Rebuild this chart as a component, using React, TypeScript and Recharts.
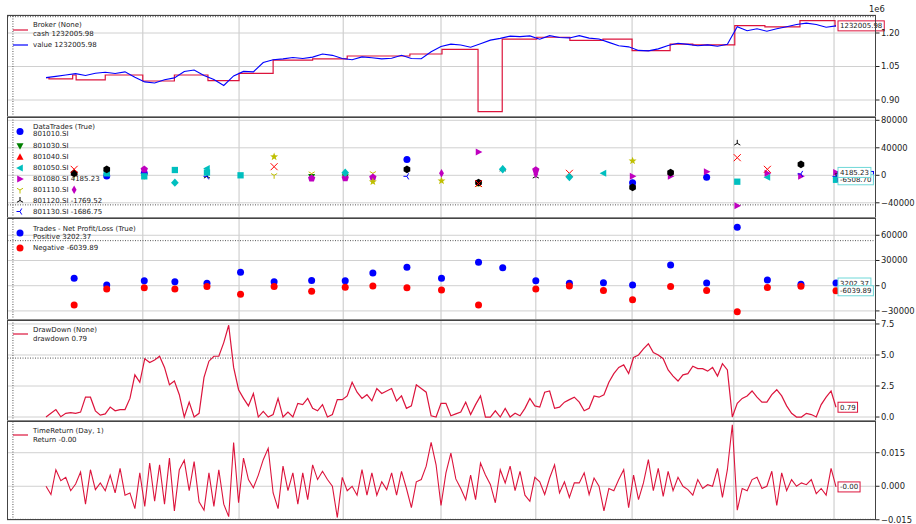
import { ComposedChart, Line, Scatter, XAxis, YAxis, CartesianGrid, ReferenceLine, ReferenceDot } from 'recharts'

const FONT = 'DejaVu Sans, sans-serif'
const CRIMSON = '#dc143c'
const BLUE = '#0000ff'
const GREEN = '#008000'
const RED = '#ff0000'
const CYAN = '#00bfbf'
const MAGENTA = '#bf00bf'
const YELLOW = '#bfbf00'
const BLACK = '#000000'
const TAG_CYAN = '#6fd8d8'

// bar index runs 0..160, plotted with a bit of padding either side
const X_DOMAIN = [-7.9, 168.1]
const gridX = [19.6, 39.1, 60.2, 80, 99.2, 118.7, 139.3, 159.6]

// broker value, every 2nd bar, in millions
const valueM = [1.000, 1.006, 1.012, 1.018, 1.010, 1.020, 1.024, 1.019, 1.026, 1.002, 0.981, 0.976, 0.991, 0.999, 1.028, 1.034, 1.010, 0.992, 0.965, 1.008, 1.028, 1.026, 1.068, 1.080, 1.084, 1.090, 1.086, 1.092, 1.106, 1.100, 1.086, 1.080, 1.093, 1.089, 1.084, 1.087, 1.100, 1.086, 1.085, 1.116, 1.140, 1.150, 1.146, 1.136, 1.152, 1.168, 1.176, 1.186, 1.184, 1.187, 1.172, 1.188, 1.180, 1.178, 1.188, 1.177, 1.173, 1.158, 1.143, 1.138, 1.122, 1.120, 1.129, 1.144, 1.154, 1.149, 1.143, 1.147, 1.141, 1.150, 1.228, 1.210, 1.219, 1.208, 1.219, 1.228, 1.238, 1.244, 1.238, 1.226, 1.232006]
// cash changes [bar, millions]
const cashSteps = [[0, 1.0], [0.6, 0.995], [5.4, 1.012], [6.1, 0.99], [12, 1.012], [19.6, 0.985], [26, 1.012], [32.8, 0.987], [39.1, 1.019], [46, 1.079], [54, 1.084], [61, 1.097], [73.7, 1.106], [80.2, 1.127], [87.5, 0.848], [92.4, 1.173], [99.4, 1.181], [106.1, 1.167], [112.8, 1.173], [118.7, 1.121], [126.4, 1.15], [131, 1.147], [139.5, 1.233], [145.6, 1.227], [152.7, 1.255], [159.8, 1.232006], [160, 1.232006]]
const p1Ticks = [900000, 1050000, 1200000]

// bars where trades were closed
const tradeIdx = [5.7, 12.3, 19.9, 26.1, 32.6, 39.4, 46.2, 53.8, 60.6, 66.2, 73.1, 80.1, 87.6, 92.5, 99.2, 106, 112.9, 118.8, 126.5, 133.8, 140, 146.1, 152.9, 160]

// data trades: [trade slot, pnl]
const s801010 = [[1, -1000], [2, 2900], [10, 23000], [17, -10700], [19, -3000]]
const s801030 = [[7, -2000], [8, -2500]]
const s801040 = [[0, 4000]]
const s801050 = [[1, 2900], [4, 10000], [16, 2900], [21, -3000]]
const s801080 = [[12, 34000], [17, -1500], [18, -1500], [19, 5300], [20, -44200], [21, 2900], [22, -1500], [23, 4185.23]]
const s801110 = [[0, 0], [2, -1000], [6, 0], [7, 2500], [9, 2900]]
const s801120 = [[4, -1500], [13, 8700], [14, -1500], [20, 46500], [23, -1769.52]]
const s801130 = [[4, -1500], [10, -1500], [22, 2000], [23, -1686.75]]
const sSquare = [[1, 2900], [2, -1500], [3, 7700], [4, 4000], [5, 0], [20, -9300], [23, -6508.7]]
const sPentagon = [[2, 8700], [7, -4400], [8, -4000], [9, -3000], [14, 7700]]
const sStar = [[6, 27000], [9, -9300], [11, -8000], [12, -12500], [17, 21000]]
const sHexagon = [[0, 2900], [1, 8700], [10, 8700], [12, -10700], [17, -17500], [18, 3800], [22, 16000]]
const sCross = [[0, 8700], [6, 12500], [12, -12000], [15, 2900], [20, 25600], [21, 8700]]
const sDiamond = [[3, -10700], [8, 3800], [13, 8700], [15, -2400]]
const sThinDiamond = [[0, -21000], [11, 2900], [14, 2000]]
const p2Ticks = [-40000, 0, 40000, 80000]

// net profit / loss per trade slot
const netPositive = [8800, 800, 6000, 4800, 2800, 15900, 4800, 6200, 5900, 15100, 21900, 8800, 27800, 21500, 6000, 2800, 3500, 800, 24600, 3100, 69500, 6800, 1800, 3202.37]
const netNegative = [-23000, -4000, -2400, -4000, -900, -10300, -900, -6700, -1700, -400, -2400, -5200, -23000, null, -4000, -300, -5600, -16700, -1000, -5600, -30900, -2000, -800, -6039.89]
const p3Ticks = [-30000, 0, 30000, 60000]

const drawdown = [0, 0.3, 0.6, 0.02, 0.3, 0.35, 0.3, 0.4, 1.6, 1.6, 0.5, 0.15, 0.25, 0.8, 0.5, 0.6, 0.6, 1.5, 3.4, 2.8, 4.7, 4.4, 4.6, 4.9, 4.0, 2.6, 2.9, 1.8, 0, 1.2, 0, 0.3, 3.2, 4.5, 4.9, 4.9, 6.0, 7.4, 4.0, 2.2, 1.5, 0.9, 1.9, 0, 0.45, 0, 0.2, 1.5, 0, 0.4, 0, 1.1, 1.0, 1.5, 0.7, 0.5, 1.0, 0, 0.2, 1.4, 1.4, 1.7, 2.8, 2.0, 1.5, 1.8, 1.3, 2.3, 1.9, 2.1, 2.3, 1.3, 1.7, 0.7, 0.9, 2.6, 2.3, 2.0, 0.1, 0, 1.1, 1.1, 0.1,
  0.25, 0.4, 1.2, 0.2, 1.0, 1.7, 0, 0, 0.5, 0, 0.7, 0, 0.3, 0.1, 0.7, 1.5, 0.9, 0.8, 2.0, 2.1, 0.7, 0.8, 1.2, 1.4, 1.6, 1.2, 0.5, 0.7, 1.7, 1.6, 1.8, 2.8, 3.5, 4.0, 4.2, 3.5, 4.8, 5.0, 5.5, 5.9, 5.2, 5.0, 4.7, 3.8, 3.3, 2.9, 3.4, 3.5, 4.1, 3.9, 3.9, 3.7, 4.0, 3.3, 4.3, 3.8, 0, 1.1, 1.5, 1.7, 2.1, 1.6, 1.2, 1.2, 1.8, 2.2, 1.7, 0.9, 0.3, 0, 0, 0.3, 0.2, 0, 1.0, 1.6, 2.1, 0.79]
const p4Ticks = [0, 2.5, 5, 7.5]

const dailyReturn = [0, -0.0037, 0.0074, 0.0025, 0.004, -0.002, 0.001, 0.0064, -0.008, 0.0074, -0.0015, 0.0015, -0.002, 0.005, -0.003, 0.008, -0.004, -0.003, -0.01, 0.006, -0.009, 0.0104, -0.0067, 0.0096, -0.008, 0.0126, -0.011, 0.0074, 0.0116, -0.002, 0.011, -0.007, -0.0107, 0.006, -0.009, 0.0074, -0.008, -0.0136, 0.0196, -0.0074, 0.0126, 0.003, -0.0007, 0.005, 0.0119, 0.017, -0.003, -0.01, 0.009, -0.002, 0.006, -0.008, 0.006, -0.006, 0.0096, 0.003, 0.0067, 0.003, 0, -0.014, 0.004, -0.002, 0, -0.004, 0.0074, -0.004, 0.006, -0.004, 0.002, -0.0015, 0.006, -0.004, 0.0067, -0.001, -0.0096, 0.002, 0.003, 0.009, 0.0196, 0.0096, -0.0086, 0.006, 0.0148,
  0.0033, -0.001, -0.006, 0.005, -0.006, 0.0104, 0.005, 0.0008, -0.0074, 0.0074, 0.0015, 0.009, -0.002, 0.0067, -0.004, -0.0067, 0.004, 0.002, -0.0037, 0.0037, 0.0096, -0.003, 0.002, -0.005, 0.0015, 0.0015, 0.006, -0.0037, 0.0037, 0, -0.011, -0.001, -0.002, 0.003, 0.0074, -0.0096, 0.005, -0.006, 0.0015, 0.0119, -0.002, 0.008, -0.0045, 0.0067, -0.002, 0.004, 0, -0.0015, -0.004, 0.003, -0.001, 0.0007, 0, 0.008, -0.005, 0.0074, 0.0275, -0.0107, -0.001, -0.002, 0.003, 0.004, -0.001, 0, 0.0067, -0.0086, 0.006, -0.002, 0.003, 0, 0.0015, 0.0007, 0.003, -0.0033, -0.001, -0.004, 0.008, -0.0003]
const p5Ticks = [-0.015, 0, 0.015]

const valueData = valueM.map((v, k) => ({ i: k * 2, v: v * 1e6 }))
const cashData = cashSteps.map(([i, v]) => ({ i, v: v * 1e6 }))
const toPts = (pairs: number[][]) => pairs.map(([s, v]) => ({ i: tradeIdx[s], v }))
const posData = netPositive.map((v, s) => ({ i: tradeIdx[s], v }))
const negData = netNegative.map((v, s) => ({ i: tradeIdx[s], v })).filter(d => d.v !== null)
const ddData = drawdown.map((v, i) => ({ i, v }))
const retData = dailyReturn.map((v, i) => ({ i, v }))

const p2Series = [
  { label: '801010.SI', glyph: 'o', color: BLUE, pts: s801010 },
  { label: '801030.SI', glyph: 'v', color: GREEN, pts: s801030 },
  { label: '801040.SI', glyph: '^', color: RED, pts: s801040 },
  { label: '801050.SI', glyph: '<', color: CYAN, pts: s801050 },
  { label: '801080.SI 4185.23', glyph: '>', color: MAGENTA, pts: s801080 },
  { label: '801110.SI', glyph: '1', color: YELLOW, pts: s801110 },
  { label: '801120.SI -1769.52', glyph: '2', color: BLACK, pts: s801120 },
  { label: '801130.SI -1686.75', glyph: '3', color: BLUE, pts: s801130 },
  { label: '', glyph: 's', color: CYAN, pts: sSquare },
  { label: '', glyph: 'p', color: MAGENTA, pts: sPentagon },
  { label: '', glyph: '*', color: YELLOW, pts: sStar },
  { label: '', glyph: 'h', color: BLACK, pts: sHexagon },
  { label: '', glyph: 'x', color: RED, pts: sCross },
  { label: '', glyph: 'D', color: CYAN, pts: sDiamond },
  { label: '', glyph: 'd', color: MAGENTA, pts: sThinDiamond },
]

const minus = (s: string) => s.replace('-', '\u2212')

function Glyph({ type, color, cx, cy, r = 3.5 }: { type: string, color: string, cx: number, cy: number, r?: number }) {
  const pt = (a: number, b: number) => `${cx + a * r},${cy + b * r}`
  const poly = (pts: number[][]) => <polygon points={pts.map(([a, b]) => pt(a, b)).join(' ')} fill={color} />
  const ring = (n: number, rot: number, k = 1) => Array.from({ length: n }, (_, j) => {
    const t = rot + (j * 2 * Math.PI) / n
    return [Math.cos(t) * k, Math.sin(t) * k]
  })
  const spokes = (pts: number[][]) => (
    <g stroke={color} strokeWidth={1}>
      {pts.map(([a, b], j) => <line key={j} x1={cx} y1={cy} x2={cx + a * r} y2={cy + b * r} />)}
    </g>
  )
  switch (type) {
    case 'o': return <circle cx={cx} cy={cy} r={r} fill={color} />
    case 'v': return poly([[-1, -0.8], [1, -0.8], [0, 1.1]])
    case '^': return poly([[-1, 0.8], [1, 0.8], [0, -1.1]])
    case '<': return poly([[0.8, -1], [0.8, 1], [-1.1, 0]])
    case '>': return poly([[-0.8, -1], [-0.8, 1], [1.1, 0]])
    case 's': return poly([[-0.9, -0.9], [0.9, -0.9], [0.9, 0.9], [-0.9, 0.9]])
    case 'D': return poly([[0, -1.2], [1.1, 0], [0, 1.2], [-1.1, 0]])
    case 'd': return poly([[0, -1.2], [0.7, 0], [0, 1.2], [-0.7, 0]])
    case 'p': return poly(ring(5, -Math.PI / 2, 1.1))
    case 'h': return poly(ring(6, -Math.PI / 2, 1.1))
    case '*': {
      const outer = ring(5, -Math.PI / 2, 1.2)
      const inner = ring(5, -Math.PI / 2 + Math.PI / 5, 0.5)
      return poly(outer.flatMap((o, j) => [o, inner[j]]))
    }
    case '1': return spokes([[0, 1], [-0.87, -0.5], [0.87, -0.5]])
    case '2': return spokes([[0, -1], [-0.87, 0.5], [0.87, 0.5]])
    case '3': return spokes([[-1, 0], [0.5, -0.87], [0.5, 0.87]])
    case 'x': return spokes([[-1, -1], [1, 1], [-1, 1], [1, -1]])
    default: return null
  }
}

const glyphShape = (type: string, color: string) => (p: any) => <Glyph type={type} color={color} cx={p.cx} cy={p.cy} />

const textWidth = (s: string) => s.split('').reduce((w, c) => w + (c === '.' ? 2.2 : c === '-' ? 2.5 : 4.45), 0)
const tag = (text: string, color: string) => (p: any) => (
  <g>
    <rect x={p.cx + 2} y={p.cy - 5} width={textWidth(text) + 4} height={10} fill="#fff" stroke={color} strokeWidth={1} />
    <text x={p.cx + 4} y={p.cy + 0.5} fontSize={7} fontFamily={FONT} fill="#222" dominantBaseline="central">{text}</text>
  </g>
)

const PAD = 10

function Panel({ top, height, domain, ticks, fmt, dotted, data, children }: any) {
  return (
    <div style={{ position: 'absolute', left: 0, top: top - PAD, width: 916, height: height + 2 * PAD }}>
      <ComposedChart width={916} height={height + 2 * PAD} data={data} margin={{ top: PAD, bottom: PAD, left: 7, right: 0 }}>
        <XAxis type="number" dataKey="i" domain={X_DOMAIN} hide allowDataOverflow />
        <YAxis orientation="right" width={40} type="number" domain={domain} ticks={ticks} allowDataOverflow
          tickFormatter={fmt} axisLine={false} tickSize={3.5} tickMargin={1.5}
          tickLine={{ stroke: '#222' }} tick={{ fontSize: 8.4, fill: '#222', fontFamily: FONT }} />
        <CartesianGrid vertical={false} stroke="#d0d0d0" />
        {gridX.map(x => <ReferenceLine key={x} x={x} stroke="#d0d0d0" strokeWidth={1.2} />)}
        <ReferenceLine x={-6.7} stroke="#555" strokeDasharray="1 1.5" />
        <ReferenceLine y={dotted} stroke="#555" strokeDasharray="1 1.5" />
        {children}
      </ComposedChart>
      <div style={{ position: 'absolute', left: 7, top: PAD, width: 869, height, border: '1px solid #444', boxSizing: 'border-box', pointerEvents: 'none' }} />
    </div>
  )
}

function LegendText({ x, y, children }: any) {
  return <text x={x} y={y} fontSize={7} fill="#222" fontFamily={FONT} dominantBaseline="central">{children}</text>
}

function Legends() {
  const rowsY = [134, 146, 157, 168, 179, 190, 200.5, 211.5]
  return (
    <svg width={916} height={524} style={{ position: 'absolute', left: 0, top: 0, pointerEvents: 'none' }}>
      <text x={869} y={9} fontSize={8.4} fill="#222" fontFamily={FONT} dominantBaseline="central">1e6</text>

      <line x1={13} x2={28} y1={30} y2={30} stroke={CRIMSON} strokeWidth={1.2} />
      <LegendText x={33} y={25}>Broker (None)</LegendText>
      <LegendText x={33} y={34}>cash 1232005.98</LegendText>
      <line x1={13} x2={28} y1={45} y2={45} stroke={BLUE} strokeWidth={1.2} />
      <LegendText x={33} y={45}>value 1232005.98</LegendText>

      <LegendText x={33} y={126.5}>DataTrades (True)</LegendText>
      {p2Series.slice(0, 8).map((s, k) => (
        <g key={s.label}>
          <Glyph type={s.glyph} color={s.color} cx={20} cy={k === 0 ? 131.5 : rowsY[k]} />
          <LegendText x={33} y={rowsY[k]}>{s.label}</LegendText>
        </g>
      ))}

      <circle cx={20} cy={233} r={3.5} fill={BLUE} />
      <LegendText x={33} y={228.5}>Trades - Net Profit/Loss (True)</LegendText>
      <LegendText x={33} y={237}>Positive 3202.37</LegendText>
      <circle cx={20} cy={248} r={3.5} fill={RED} />
      <LegendText x={33} y={248}>Negative -6039.89</LegendText>

      <line x1={13} x2={28} y1={334} y2={334} stroke={CRIMSON} strokeWidth={1.2} />
      <LegendText x={33} y={329.5}>DrawDown (None)</LegendText>
      <LegendText x={33} y={338.5}>drawdown 0.79</LegendText>

      <line x1={13} x2={28} y1={435} y2={435} stroke={CRIMSON} strokeWidth={1.2} />
      <LegendText x={33} y={431}>TimeReturn (Day, 1)</LegendText>
      <LegendText x={33} y={440}>Return -0.00</LegendText>
    </svg>
  )
}

export default function App() {
  return (
    <div style={{ position: 'fixed', left: 0, top: 0, width: 916, height: 524, background: '#fff', fontFamily: FONT, overflow: 'hidden' }}>
      <Panel top={15} height={102} domain={[823900, 1280600]} ticks={p1Ticks} dotted={1273000}
        fmt={(v: number) => (v / 1e6).toFixed(2)}>
        <Line data={cashData} dataKey="v" type="stepAfter" stroke={CRIMSON} strokeWidth={1.2} dot={false} isAnimationActive={false} />
        <Line data={valueData} dataKey="v" type="linear" stroke={BLUE} strokeWidth={1.1} dot={false} isAnimationActive={false} />
        <ReferenceDot x={160} y={1232005.98} shape={tag('1232005.98', CRIMSON)} />
      </Panel>

      <Panel top={117} height={101} domain={[-62100, 84800]} ticks={p2Ticks} dotted={-43000}
        fmt={(v: number) => minus(String(v))}>
        {p2Series.map((s, k) => (
          <Scatter key={k} data={toPts(s.pts)} dataKey="v" shape={glyphShape(s.glyph, s.color)} isAnimationActive={false} />
        ))}
        <ReferenceDot x={160} y={-1769.52} shape={tag('-1769.52', BLACK)} />
        <ReferenceDot x={160} y={-1686.75} shape={tag('-1686.75', BLUE)} />
        <ReferenceDot x={160} y={-6508.7} shape={tag('-6508.70', TAG_CYAN)} />
        <ReferenceDot x={160} y={4185.23} shape={tag('4185.23', TAG_CYAN)} />
      </Panel>

      <Panel top={218} height={102} domain={[-40820, 80560]} ticks={p3Ticks} dotted={53600}
        fmt={(v: number) => minus(String(v))}>
        <Scatter data={posData} dataKey="v" shape={glyphShape('o', BLUE)} isAnimationActive={false} />
        <Scatter data={negData} dataKey="v" shape={glyphShape('o', RED)} isAnimationActive={false} />
        <ReferenceDot x={160} y={3202.37} shape={tag('3202.37', TAG_CYAN)} />
        <ReferenceDot x={160} y={-6039.89} shape={tag('-6039.89', TAG_CYAN)} />
      </Panel>

      <Panel top={320} height={101} domain={[-0.32, 7.82]} ticks={p4Ticks} dotted={4.75} data={ddData}
        fmt={(v: number) => v.toFixed(1)}>
        <Line dataKey="v" type="linear" stroke={CRIMSON} strokeWidth={1.2} dot={false} isAnimationActive={false} />
        <ReferenceDot x={160} y={0.79} shape={tag('0.79', CRIMSON)} />
      </Panel>

      <Panel top={421} height={99} domain={[-0.0151, 0.0292]} ticks={p5Ticks} dotted={-0.0148} data={retData}
        fmt={(v: number) => minus(v.toFixed(3))}>
        <Line dataKey="v" type="linear" stroke={CRIMSON} strokeWidth={1.1} dot={false} isAnimationActive={false} />
        <ReferenceDot x={160} y={-0.0003} shape={tag('-0.00', CRIMSON)} />
      </Panel>

      <Legends />
    </div>
  )
}
